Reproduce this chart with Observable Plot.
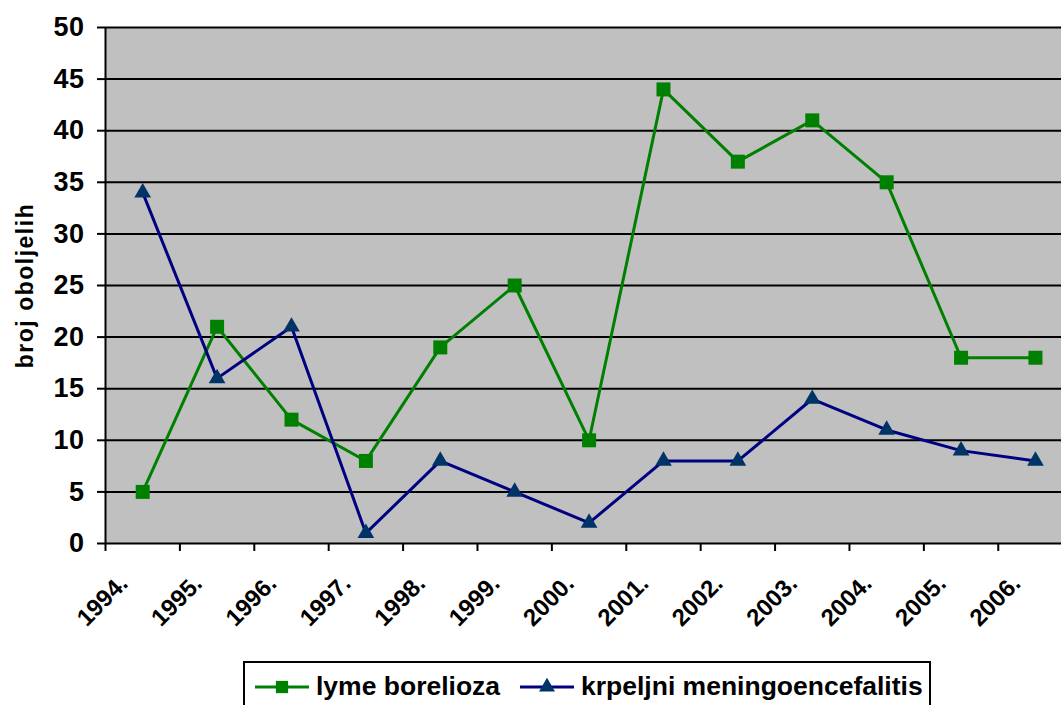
<!DOCTYPE html>
<html>
<head>
<meta charset="utf-8">
<script src="https://cdn.jsdelivr.net/npm/d3@7"></script>
<script src="https://cdn.jsdelivr.net/npm/@observablehq/plot@0.6"></script>
<style>
  html, body { margin: 0; padding: 0; background: #fff; }
  body { font-family: "Liberation Sans", Arial, sans-serif; font-weight: bold; width: 1061px; height: 705px; overflow: hidden; position: relative; }
  #legend { position: absolute; left: 243px; top: 661px; width: 688px; height: 60px; border: 2px solid #000; box-sizing: border-box; background: #fff; }
  .item { position: absolute; top: 8px; display: flex; align-items: center; font-size: 26.5px; font-weight: bold; color: #000; }
  .spaced text { letter-spacing: 1.5px; }
  .yticks text { letter-spacing: 0.5px; font-size: 27px; }
</style>
</head>
<body>
<div id="chart"></div>
<div id="legend"></div>
<script>
const years = ["1994.", "1995.", "1996.", "1997.", "1998.", "1999.", "2000.", "2001.", "2002.", "2003.", "2004.", "2005.", "2006."];
const lyme = [5, 21, 12, 8, 19, 25, 10, 44, 37, 41, 35, 18, 18];
const tbe = [34, 16, 21, 1, 8, 5, 2, 8, 8, 14, 11, 9, 8];
const yTicks = [0, 5, 10, 15, 20, 25, 30, 35, 40, 45, 50];
const seriesNames = ["lyme borelioza", "krpeljni meningoencefalitis"];
const yTitle = "broj oboljelih";

const green = "#008000";
const navy = "#000080";
const triFill = "#003366";

const idx = years.map((_, i) => i);
const lymeData = idx.map(i => ({x: i + 0.5, y: lyme[i], year: years[i]}));
const tbeData = idx.map(i => ({x: i + 0.5, y: tbe[i], year: years[i]}));

const chart = Plot.plot({
  width: 1061,
  height: 660,
  marginLeft: 105,
  marginRight: 0,
  marginTop: 27,
  marginBottom: 117,
  style: {fontFamily: "'Liberation Sans', Arial, sans-serif", fontWeight: "bold", overflow: "visible"},
  x: {domain: [0, 12.85], axis: null},
  y: {domain: [0, 50], axis: null},
  marks: [
    Plot.frame({fill: "#c0c0c0", stroke: null}),
    Plot.gridY(yTicks.filter(d => d > 0), {stroke: "#000", strokeOpacity: 1, strokeWidth: 2}),
    Plot.axisY(yTicks, {tickSize: 8, tickPadding: 13, fontSize: 27, fontWeight: "bold", stroke: "#000", strokeWidth: 2, fill: "#000", label: null, className: "yticks"}),
    Plot.axisX(d3.range(0, 13), {tickSize: 8, tickFormat: () => "", stroke: "#000", strokeWidth: 2, label: null}),
    Plot.ruleX([0], {stroke: "#000", strokeWidth: 2}),
    Plot.ruleY([0], {stroke: "#000", strokeWidth: 2}),
    Plot.text(lymeData, {x: "x", text: "year", frameAnchor: "bottom", dy: 36, dx: -19, rotate: -45, textAnchor: "end", lineAnchor: "middle", fontSize: 24, fontWeight: "bold", fill: "#000"}),
    Plot.text([yTitle], {frameAnchor: "left", dx: -80, rotate: -90, textAnchor: "middle", fontSize: 23, fontWeight: "bold", fill: "#000", className: "spaced"}),
    Plot.line(lymeData, {x: "x", y: "y", stroke: green, strokeWidth: 3}),
    Plot.dot(lymeData, {x: "x", y: "y", symbol: "square", r: 7.9, fill: green, stroke: null}),
    Plot.line(tbeData, {x: "x", y: "y", stroke: navy, strokeWidth: 3}),
    Plot.dot(tbeData, {x: "x", y: "y", symbol: "triangle", r: 6.2, fill: triFill, stroke: null})
  ]
});
document.getElementById("chart").appendChild(chart);

// Legend
const legend = document.getElementById("legend");
const items = [
  {name: seriesNames[0], color: green, sym: "square", left: 10},
  {name: seriesNames[1], color: navy, sym: "triangle", left: 275}
];
for (const it of items) {
  const div = document.createElement("div");
  div.className = "item";
  div.style.left = it.left + "px";
  const ns = "http://www.w3.org/2000/svg";
  const svg = document.createElementNS(ns, "svg");
  svg.setAttribute("width", 56);
  svg.setAttribute("height", 30);
  svg.style.marginRight = "5px";
  const line = document.createElementNS(ns, "line");
  line.setAttribute("x1", 0); line.setAttribute("x2", 54);
  line.setAttribute("y1", 15); line.setAttribute("y2", 15);
  line.setAttribute("stroke", it.color); line.setAttribute("stroke-width", 3);
  svg.appendChild(line);
  const path = document.createElementNS(ns, "path");
  const sym = it.sym === "square" ? d3.symbol(d3.symbolSquare, 150) : d3.symbol(d3.symbolTriangle, 110);
  path.setAttribute("d", sym());
  path.setAttribute("transform", "translate(27,15)");
  path.setAttribute("fill", it.sym === "square" ? green : triFill);
  svg.appendChild(path);
  div.appendChild(svg);
  const span = document.createElement("span");
  span.textContent = it.name;
  div.appendChild(span);
  legend.appendChild(div);
}
</script>
</body>
</html>
